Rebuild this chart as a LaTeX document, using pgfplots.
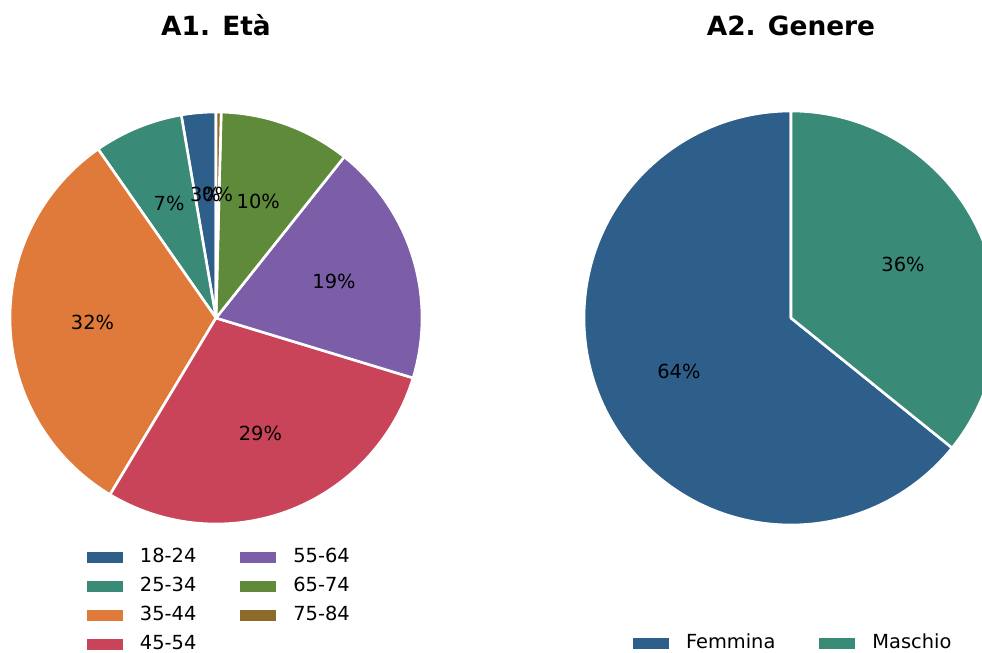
\documentclass[border=0pt]{standalone}
\usepackage{fontspec}
\setmainfont{DejaVu Sans}
\usepackage{pgfplots}
\usepackage{pgfplotstable}
\pgfplotsset{compat=1.18}

\definecolor{c1}{HTML}{2D5F8A}
\definecolor{c2}{HTML}{3A8A78}
\definecolor{c3}{HTML}{E07A3A}
\definecolor{c4}{HTML}{C94459}
\definecolor{c5}{HTML}{7B5EA7}
\definecolor{c6}{HTML}{5E8A3A}
\definecolor{c7}{HTML}{8B6A2A}

\pgfplotstableread{
label value col
18-24 2.7 c1
25-34 7.0 c2
35-44 31.7 c3
45-54 28.9 c4
55-64 19.0 c5
65-74 10.3 c6
75-84 0.4 c7
}\agedata

\pgfplotstableread{
label value col
Femmina 64.2 c1
Maschio 35.8 c2
}\sexdata

% #1 table, #2 cx, #3 cy (axis units), #4 radius in pt
\newcommand\drawpie[4]{%
  \pgfplotstablegetrowsof{#1}%
  \pgfmathtruncatemacro\nrows{\pgfplotsretval-1}%
  \def\cum{0}%
  \pgfplotsforeachungrouped \i in {0,...,\nrows}{%
    \pgfplotstablegetelem{\i}{value}\of#1\let\val\pgfplotsretval
    \pgfplotstablegetelem{\i}{col}\of#1\let\colr\pgfplotsretval
    \pgfmathsetmacro\angA{90+3.6*\cum}%
    \pgfmathsetmacro\angB{90+3.6*(\cum+\val)}%
    \edef\temp{\noexpand\fill[\colr, draw=white, line width=1.3pt, line join=round] (axis cs:#2,#3) -- ++(\angA:#4pt) arc[start angle=\angA, end angle=\angB, radius=#4pt] -- cycle;}%
    \temp
    \pgfmathsetmacro\cum{\cum+\val}%
  }%
  \def\cum{0}%
  \pgfmathsetmacro\lr{0.6*#4}%
  \pgfplotsforeachungrouped \i in {0,...,\nrows}{%
    \pgfplotstablegetelem{\i}{value}\of#1\let\val\pgfplotsretval
    \pgfmathsetmacro\angM{90+3.6*(\cum+\val/2)}%
    \pgfmathtruncatemacro\pct{round(\val)}%
    \edef\temp{\noexpand\node[font=\noexpand\fontsize{9.7}{11}\noexpand\selectfont, inner sep=0pt] at ([shift={(\angM:\lr pt)}]axis cs:#2,#3) {\pct\noexpand\%};}%
    \temp
    \pgfmathsetmacro\cum{\cum+\val}%
  }%
}

\pgfplotsset{
  piebase/.style={
    width=491pt, height=326pt, scale only axis,
    xmin=0, xmax=982, ymin=0, ymax=652,
    hide axis, clip=true,
    legend image code/.code={\fill[##1] (0pt,-2.75pt) rectangle (18pt,2.75pt);},
    legend style={draw=none, fill=none, inner sep=0pt, outer sep=0pt,
      font=\fontsize{9.7}{11}\selectfont,
      nodes={inner sep=1pt, text height=7pt, text depth=2pt},
      /tikz/row sep=3.5pt,
      /tikz/every odd column/.append style={column sep=7.5pt},
      /tikz/every even column/.append style={column sep=21pt}},
  }
}

\begin{document}
\begin{tikzpicture}
\begin{axis}[piebase, name=ax,
  legend columns=4, transpose legend,
  legend style={at={(axis cs:87,106)}, anchor=north west}]
  \drawpie{\agedata}{216}{334}{103}
  \node[font=\bfseries\fontsize{13.2}{16}\selectfont, anchor=base] at (axis cs:216,616) {A1. Età};
  \addlegendimage{fill=c1, draw=none}\addlegendentry{18-24}
  \addlegendimage{fill=c2, draw=none}\addlegendentry{25-34}
  \addlegendimage{fill=c3, draw=none}\addlegendentry{35-44}
  \addlegendimage{fill=c4, draw=none}\addlegendentry{45-54}
  \addlegendimage{fill=c5, draw=none}\addlegendentry{55-64}
  \addlegendimage{fill=c6, draw=none}\addlegendentry{65-74}
  \addlegendimage{fill=c7, draw=none}\addlegendentry{75-84}
\end{axis}
\begin{axis}[piebase,
  legend columns=2,
  legend style={at={(axis cs:633,20)}, anchor=north west}]
  \drawpie{\sexdata}{791}{334}{103.5}
  \node[font=\bfseries\fontsize{13.2}{16}\selectfont, anchor=base] at (axis cs:791,616) {A2. Genere};
  \addlegendimage{fill=c1, draw=none}\addlegendentry{Femmina}
  \addlegendimage{fill=c2, draw=none}\addlegendentry{Maschio}
\end{axis}
\pgfresetboundingbox
\path (ax.south west) rectangle (ax.north east);
\end{tikzpicture}
\end{document}
